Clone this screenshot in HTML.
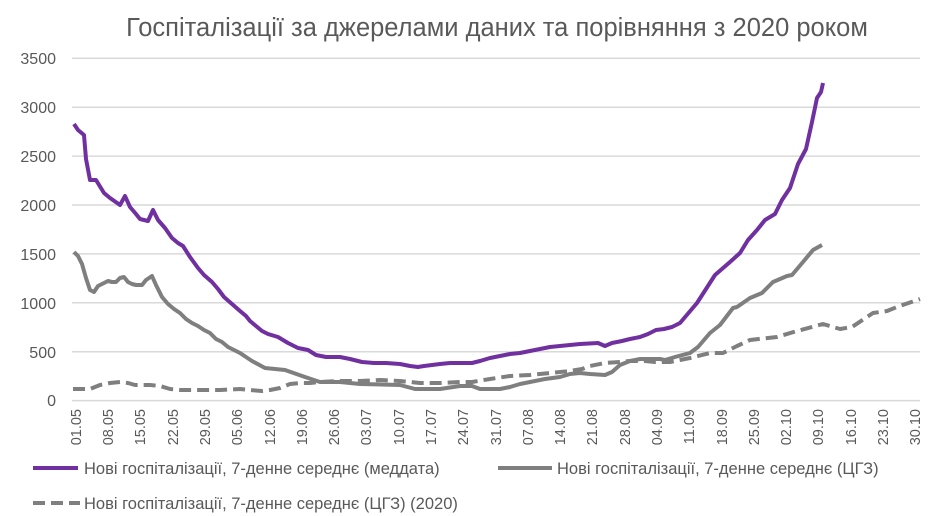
<!DOCTYPE html>
<html><head><meta charset="utf-8"><style>
body{margin:0;background:#fff;width:944px;height:516px;overflow:hidden}
svg{display:block;font-family:"Liberation Sans",sans-serif}
</style></head><body>
<svg width="944" height="516" viewBox="0 0 944 516">
<text x="497" y="36" text-anchor="middle" font-size="25.5" fill="#595959">Госпіталізації за джерелами даних та порівняння з 2020 роком</text>
<g stroke="#d9d9d9" stroke-width="1.5">
<line x1="72" x2="920" y1="58.3" y2="58.3"/><line x1="72" x2="920" y1="107.2" y2="107.2"/><line x1="72" x2="920" y1="156.1" y2="156.1"/><line x1="72" x2="920" y1="205" y2="205"/><line x1="72" x2="920" y1="253.9" y2="253.9"/><line x1="72" x2="920" y1="302.8" y2="302.8"/><line x1="72" x2="920" y1="351.7" y2="351.7"/><line x1="72" x2="920" y1="400.6" y2="400.6"/>
</g>
<g font-size="16" fill="#595959" text-anchor="end">
<text x="56" y="64">3500</text><text x="56" y="113">3000</text><text x="56" y="162">2500</text><text x="56" y="211">2000</text><text x="56" y="260">1500</text><text x="56" y="309">1000</text><text x="56" y="358">500</text><text x="56" y="406">0</text>
</g>
<polyline fill="none" stroke="#7f7f7f" stroke-width="4" stroke-dasharray="12,6" stroke-linejoin="round" points="73,389 90,389 95,387 100,385 110,383 120,382 128,383 135,385 150,385 160,386 170,389 180,390 200,390 220,390 240,389 250,390 262,391 270,390 280,388 290,384 300,383 310,383 320,382 340,381 360,381 380,380 400,381 410,382 420,383 440,383 460,382 472,382 490,379 510,376 530,375 550,373 570,371 582,369 590,366 605,363 620,362 630,361 645,361 655,362 670,362 680,360 690,358 710,353 723,353 737,346 750,340 777,337 797,331 823,324 840,329 852,327 873,313 887,311 897,307 920,299"/>
<polyline fill="none" stroke="#7f7f7f" stroke-width="4" stroke-linejoin="round" points="74,252 78,256 82,264 86,278 90,290 94,292 98,286 104,283 108,281 112,282 116,282 120,278 124,277 128,282 132,284 136,285 142,285 146,280 152,276 156,285 162,297 168,304 174,309 180,313 186,319 192,323 198,326 204,330 210,333 216,339 222,342 228,347 234,350 240,353 246,357 252,361 265,368 285,370 305,377 320,382 340,382 360,384 400,385 415,389 440,389 460,386 472,386 480,389 500,389 510,387 520,384 530,382 545,379 560,377 570,374 580,373 590,374 605,375 612,372 620,365 630,361 640,359 660,359 665,360 675,357 690,353 698,347 710,333 720,325 733,308 737,307 750,298 762,293 773,282 787,276 792,275 803,262 813,250 822,245"/>
<polyline fill="none" stroke="#7030a0" stroke-width="4" stroke-linejoin="round" points="74,124 78,130 84,135 86,159 90,180 96,180 104,193 110,198 120,205 125,196 130,207 136,214 140,219 148,221 153,210 158,220 165,228 172,238 178,243 183,246 190,257 198,268 204,275 212,282 218,289 224,297 232,304 240,311 246,316 250,321 256,326 262,331 268,334 278,337 288,343 298,348 308,350 316,355 326,357 340,357 350,359 362,362 374,363 386,363 400,364 410,366 418,367 424,366 432,365 440,364 450,363 472,363 480,361 490,358 500,356 510,354 520,353 530,351 540,349 550,347 560,346 570,345 580,344 598,343 605,346 612,343 622,341 630,339 640,337 648,334 656,330 664,329 672,327 680,323 697,303 715,275 730,262 740,253 748,240 757,230 765,220 775,214 782,200 790,188 798,164 806,149 812,122 817,98 821,92 823,83"/>
<line x1="33" x2="78" y1="468" y2="468" stroke="#7030a0" stroke-width="4"/>
<text x="84" y="474" font-size="16.5" fill="#595959">Нові госпіталізації, 7-денне середнє (меддата)</text>
<line x1="498" x2="552" y1="468" y2="468" stroke="#7f7f7f" stroke-width="4"/>
<text x="557" y="474" font-size="16.5" fill="#595959">Нові госпіталізації, 7-денне середнє (ЦГЗ)</text>
<line x1="33" x2="80" y1="503" y2="503" stroke="#7f7f7f" stroke-width="4" stroke-dasharray="12,6"/>
<text x="84" y="509" font-size="16.5" fill="#595959">Нові госпіталізації, 7-денне середнє (ЦГЗ) (2020)</text>
<g font-size="14.5" fill="#595959" text-anchor="end">
<text transform="translate(81,409) rotate(-90)">01.05</text>
<text transform="translate(113,409) rotate(-90)">08.05</text>
<text transform="translate(145,409) rotate(-90)">15.05</text>
<text transform="translate(178,409) rotate(-90)">22.05</text>
<text transform="translate(210,409) rotate(-90)">29.05</text>
<text transform="translate(242,409) rotate(-90)">05.06</text>
<text transform="translate(275,409) rotate(-90)">12.06</text>
<text transform="translate(307,409) rotate(-90)">19.06</text>
<text transform="translate(339,409) rotate(-90)">26.06</text>
<text transform="translate(371,409) rotate(-90)">03.07</text>
<text transform="translate(404,409) rotate(-90)">10.07</text>
<text transform="translate(436,409) rotate(-90)">17.07</text>
<text transform="translate(468,409) rotate(-90)">24.07</text>
<text transform="translate(501,409) rotate(-90)">31.07</text>
<text transform="translate(533,409) rotate(-90)">07.08</text>
<text transform="translate(565,409) rotate(-90)">14.08</text>
<text transform="translate(597,409) rotate(-90)">21.08</text>
<text transform="translate(630,409) rotate(-90)">28.08</text>
<text transform="translate(662,409) rotate(-90)">04.09</text>
<text transform="translate(694,409) rotate(-90)">11.09</text>
<text transform="translate(727,409) rotate(-90)">18.09</text>
<text transform="translate(759,409) rotate(-90)">25.09</text>
<text transform="translate(791,409) rotate(-90)">02.10</text>
<text transform="translate(823,409) rotate(-90)">09.10</text>
<text transform="translate(856,409) rotate(-90)">16.10</text>
<text transform="translate(888,409) rotate(-90)">23.10</text>
<text transform="translate(920,409) rotate(-90)">30.10</text>
</g>
</svg>
</body></html>
